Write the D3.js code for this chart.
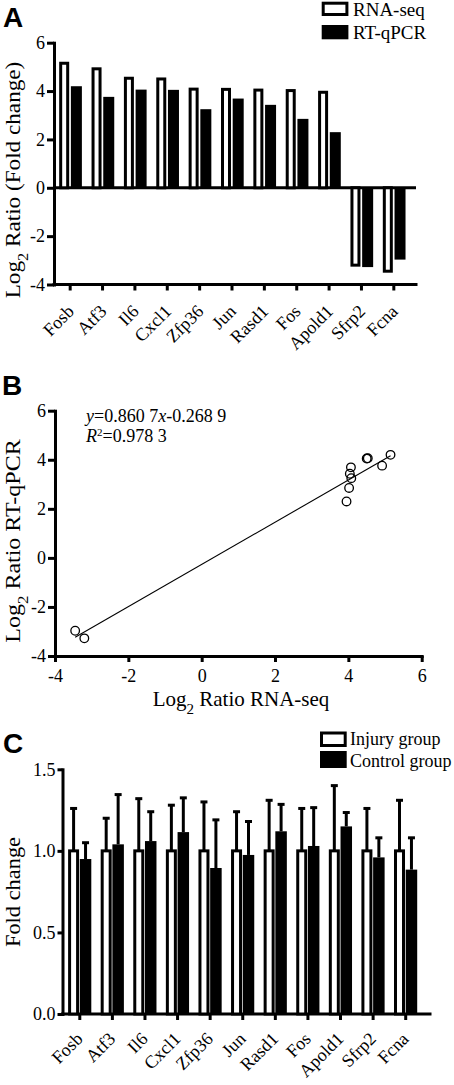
<!DOCTYPE html>
<html><head><meta charset="utf-8">
<script src="https://cdn.jsdelivr.net/npm/d3@7"></script>
<style>
body{margin:0;background:#fff}
svg text{font-family:"Liberation Serif","Times New Roman",serif;fill:#000}
</style>
</head><body><svg id="c" width="454" height="1085"></svg>
<script>
// ---------- data ----------
const genes = ["Fosb","Atf3","Il6","Cxcl1","Zfp36","Jun","Rasd1","Fos","Apold1","Sfrp2","Fcna"];
const rnaSeq = [5.15,4.92,4.53,4.50,4.08,4.07,4.04,4.02,3.95,-3.20,-3.45];
const rtqPCR = [4.20,3.76,4.06,4.05,3.25,3.69,3.43,2.85,2.30,-3.28,-2.97];
const seriesA = ["RNA-seq","RT-qPCR"];
const ticksA = [-4,-2,0,2,4,6];
const ticksB = [-4,-2,0,2,4,6];
const fitSlope = 0.8607, fitIntercept = -0.2689;
const fitLine1 = "=0.860 7", fitLine1b = "-0.268 9", fitR2 = "=0.978 3";
const groupsC = ["Injury group","Control group"];
const injuryMean = [1,1,1,1,1,1,1,1,1,1,1];
const injurySD   = [0.26,0.20,0.32,0.28,0.30,0.24,0.31,0.26,0.40,0.26,0.31];
const controlMean= [0.95,1.04,1.06,1.115,0.895,0.975,1.12,1.03,1.15,0.96,0.885];
const controlSD  = [0.10,0.305,0.18,0.21,0.295,0.205,0.165,0.235,0.085,0.12,0.195];
const ticksC = [0,0.5,1.0,1.5];

const SERIF = "'Liberation Serif','Times New Roman',serif";
const svg = d3.select("#c");
const fmtInt = d => String(d);
function styleAxis(g, fs){
  g.attr("font-family",null).attr("font-size",null);
  g.selectAll("path.domain").attr("stroke-width",3).attr("stroke-linecap","square");
  g.selectAll(".tick line").attr("stroke-width",3);
  g.selectAll(".tick text").style("font-size",fs+"px").style("font-family",SERIF);
}
function panelLabel(t,x,y){
  svg.append("text").attr("x",x).attr("y",y).text(t)
    .style("font-family","'Liberation Sans',Arial,sans-serif").style("font-weight","bold").style("font-size","28px");
}
function vTitle(x,y,parts,fs,sx){
  const t = svg.append("text").attr("transform",`translate(${x},${y}) rotate(-90) scale(${sx},1)`)
    .attr("text-anchor","middle").style("font-size",fs+"px");
  parts.forEach(p=>{
    const s=t.append("tspan").text(p.t);
    if(p.sub) s.attr("baseline-shift","sub").style("font-size",(fs*0.7)+"px");
  });
}

// ---------- Panel A ----------
panelLabel("A",3,27);
const xA = d3.scaleBand().domain(genes).range([54,410]);
const yA = d3.scaleLinear().domain([-4,6]).range([284.5,42.7]);
const bwA = xA.bandwidth();
const gAy = svg.append("g").attr("transform",`translate(${xA.range()[0]},0)`)
  .call(d3.axisLeft(yA).tickValues(ticksA).tickFormat(fmtInt).tickSize(7).tickPadding(2).tickSizeOuter(0));
styleAxis(gAy,18);
const gAx = svg.append("g").attr("transform",`translate(0,${yA(-4)})`)
  .call(d3.axisBottom(xA).tickSize(6).tickSizeOuter(0));
styleAxis(gAx,18);
gAx.select("path.domain").attr("d",`M${xA.range()[0]},0H${xA.range()[1]+6}`);
gAx.selectAll(".tick text").attr("x",0).attr("y",0).attr("dy",0)
  .attr("text-anchor","end").attr("transform","translate(5,28) rotate(-45)");
svg.append("line").attr("x1",xA.range()[0]).attr("x2",xA.range()[1]+6)
  .attr("y1",yA(0)).attr("y2",yA(0)).attr("stroke","#000").attr("stroke-width",3);
const gA = svg.append("g");
genes.forEach((g,i)=>{
  const c = xA(g)+bwA/2;
  const v1 = rnaSeq[i], v2 = rtqPCR[i];
  gA.append("rect").attr("x",c-9.5).attr("width",7)
    .attr("y",Math.min(yA(v1),yA(0))).attr("height",Math.abs(yA(v1)-yA(0)))
    .attr("fill","#fff").attr("stroke","#000").attr("stroke-width",3);
  gA.append("rect").attr("x",c+0.7).attr("width",11)
    .attr("y",Math.min(yA(v2),yA(0))).attr("height",Math.abs(yA(v2)-yA(0)))
    .attr("fill","#000");
});
svg.append("rect").attr("x",323.2).attr("y",3.2).attr("width",23.7).attr("height",11.3)
  .attr("fill","#fff").attr("stroke","#000").attr("stroke-width",3);
svg.append("rect").attr("x",321.7).attr("y",25).attr("width",26.7).attr("height",14.3).attr("fill","#000");
svg.append("text").attr("x",353).attr("y",16).style("font-size","19px").text(seriesA[0]);
svg.append("text").attr("x",353).attr("y",38.5).style("font-size","19px").text(seriesA[1]);
vTitle(19.5,180,[{t:"Log"},{t:"2",sub:true},{t:" Ratio (Fold change)"}],20,1.16);

// ---------- Panel B ----------
panelLabel("B",2,395);
const xB = d3.scaleLinear().domain([-4,6]).range([55,421.7]);
const yB = d3.scaleLinear().domain([-4,6]).range([656,410.7]);
const gBx = svg.append("g").attr("transform",`translate(0,${yB(-4)})`)
  .call(d3.axisBottom(xB).tickValues(ticksB).tickFormat(fmtInt).tickSize(6).tickPadding(7).tickSizeOuter(0));
styleAxis(gBx,18);
const gBy = svg.append("g").attr("transform",`translate(${xB(-4)},0)`)
  .call(d3.axisLeft(yB).tickValues(ticksB).tickFormat(fmtInt).tickSize(7).tickPadding(2).tickSizeOuter(0));
styleAxis(gBy,18);
const ext = d3.extent(rnaSeq);
svg.append("line").attr("x1",xB(ext[0])).attr("y1",yB(fitSlope*ext[0]+fitIntercept))
  .attr("x2",xB(ext[1])).attr("y2",yB(fitSlope*ext[1]+fitIntercept))
  .attr("stroke","#000").attr("stroke-width",1.1);
svg.append("g").selectAll("circle").data(genes).join("circle")
  .attr("cx",(d,i)=>xB(rnaSeq[i])).attr("cy",(d,i)=>yB(rtqPCR[i])).attr("r",4.3)
  .attr("fill","none").attr("stroke","#000").attr("stroke-width",1.3);
const eq1 = svg.append("text").attr("x",86).attr("y",421.7).style("font-size","18px");
eq1.append("tspan").style("font-style","italic").text("y");
eq1.append("tspan").text(fitLine1);
eq1.append("tspan").style("font-style","italic").text("x");
eq1.append("tspan").text(fitLine1b);
const eq2 = svg.append("text").attr("x",86).attr("y",441.7).style("font-size","18px");
eq2.append("tspan").style("font-style","italic").text("R");
eq2.append("tspan").attr("baseline-shift","super").style("font-size","11px").text("2");
eq2.append("tspan").text(fitR2);
const tB = svg.append("text").attr("x",241).attr("y",706).attr("text-anchor","middle").style("font-size","21px");
tB.append("tspan").text("Log");
tB.append("tspan").attr("baseline-shift","sub").style("font-size","15px").text("2");
tB.append("tspan").text(" Ratio RNA-seq");
vTitle(19.5,541,[{t:"Log"},{t:"2",sub:true},{t:" Ratio RT-qPCR"}],20,1.2);

// ---------- Panel C ----------
panelLabel("C",3,753);
const xC = d3.scaleBand().domain(genes).range([63.5,422]);
const yC = d3.scaleLinear().domain([0,1.5]).range([1014,769.3]);
const bwC = xC.bandwidth();
const gCy = svg.append("g").attr("transform",`translate(62.5,0)`)
  .call(d3.axisLeft(yC).tickValues(ticksC).tickFormat(d3.format(".1f")).tickSize(5).tickPadding(2).tickSizeOuter(0));
styleAxis(gCy,18);
const gCx = svg.append("g").attr("transform",`translate(0,${yC(0)})`)
  .call(d3.axisBottom(xC).tickSize(6).tickSizeOuter(0));
styleAxis(gCx,18);
gCx.select("path.domain").attr("d",`M62.5,0H${xC.range()[1]+8}`);
gCx.selectAll(".tick text").attr("x",0).attr("y",0).attr("dy",0)
  .attr("text-anchor","end").attr("transform","translate(4,26) rotate(-45)");
const gC = svg.append("g");
function errBar(cx, m, sd){
  gC.append("line").attr("x1",cx).attr("x2",cx).attr("y1",yC(m)).attr("y2",yC(m+sd))
    .attr("stroke","#000").attr("stroke-width",3);
  gC.append("line").attr("x1",cx-3.5).attr("x2",cx+3.5).attr("y1",yC(m+sd)).attr("y2",yC(m+sd))
    .attr("stroke","#000").attr("stroke-width",3);
}
genes.forEach((g,i)=>{
  const c = xC(g)+bwC/2;
  errBar(c-6.2, injuryMean[i], injurySD[i]);
  errBar(c+5.75, controlMean[i], controlSD[i]);
  gC.append("rect").attr("x",c-10.2).attr("width",8)
    .attr("y",yC(injuryMean[i])).attr("height",yC(0)-yC(injuryMean[i]))
    .attr("fill","#fff").attr("stroke","#000").attr("stroke-width",3);
  gC.append("rect").attr("x",c).attr("width",11.5)
    .attr("y",yC(controlMean[i])).attr("height",yC(0)-yC(controlMean[i]))
    .attr("fill","#000");
});
svg.append("rect").attr("x",321.5).attr("y",733).attr("width",23.7).attr("height",12.5)
  .attr("fill","#fff").attr("stroke","#000").attr("stroke-width",3);
svg.append("rect").attr("x",320).attr("y",751).attr("width",26.7).attr("height",17).attr("fill","#000");
svg.append("text").attr("x",350).attr("y",745).style("font-size","18px").text(groupsC[0]);
svg.append("text").attr("x",350).attr("y",766.5).style("font-size","18px").text(groupsC[1]);
vTitle(19.5,892,[{t:"Fold change"}],20,1.12);
</script>
</body></html>
